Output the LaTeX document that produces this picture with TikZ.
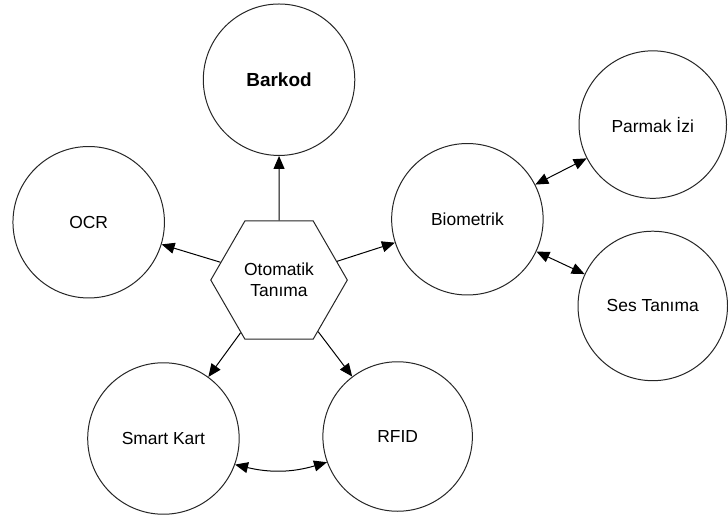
\documentclass[tikz,border=0pt]{standalone}
\usepackage{fontspec}
\setmainfont{Liberation Sans}
\usetikzlibrary{shapes.geometric,arrows.meta}
\begin{document}
\begin{tikzpicture}[x=1pt,y=-1pt,
  lbl/.style={font=\fontsize{17.5}{21}\selectfont},
  circ/.style={circle,draw=black!85,line width=1pt,minimum size=152pt,inner sep=0pt,lbl},
  hexa/.style={regular polygon,regular polygon sides=6,draw=black!85,line width=1pt,minimum size=137pt,inner sep=0pt,align=center,lbl},
  tip/.tip={Triangle[length=13pt,width=11pt]},
  arr/.style={line width=1pt,-tip},
  darr/.style={line width=1pt,tip-tip}]
\fill[white] (0,0) rectangle (728,520);
\node[hexa] (hex) at (280,281) {Otomatik\\Tan\i ma};
\node[circ,font=\bfseries\fontsize{19}{22}\selectfont] (barkod) at (280,80) {Barkod};
\node[circ] (ocr) at (89,223) {OCR};
\node[circ] (bio) at (469,220) {Biometrik};
\node[circ,minimum size=148pt] (parmak) at (655,125) {Parmak \.Izi};
\node[circ,minimum size=150pt] (ses) at (655,307) {Ses Tan\i ma};
\node[circ] (smart) at (164,440) {Smart Kart};
\node[circ,minimum size=150pt] (rfid) at (399,438) {RFID};
\draw[arr] (hex) -- (barkod);
\draw[arr] (hex) -- (ocr);
\draw[arr] (hex) -- (bio);
\draw[arr] (hex) -- (smart);
\draw[arr] (hex) -- (rfid);
\draw[darr] (bio) -- (parmak);
\draw[darr] (bio) -- (ses);
\draw[darr] (smart.-20) to[bend right=15] (rfid.200);
\end{tikzpicture}
\end{document}
